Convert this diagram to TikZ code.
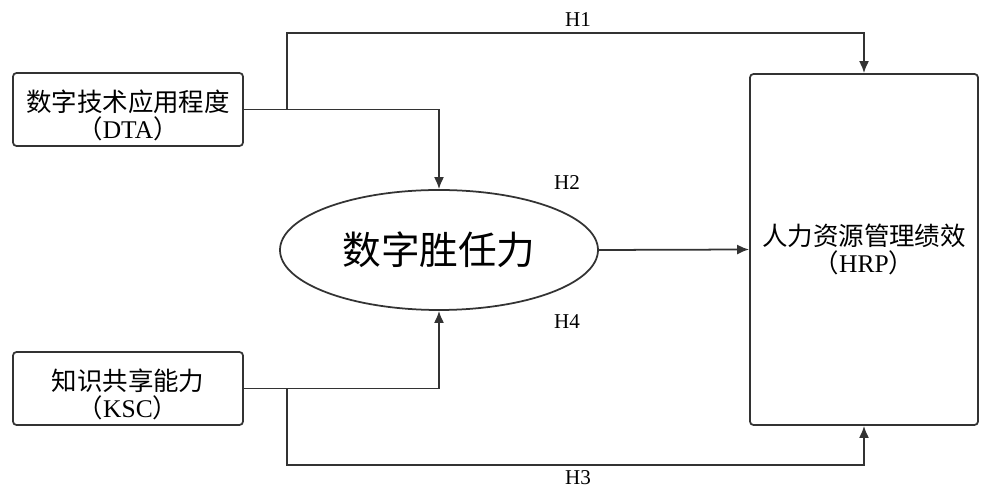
\documentclass[tikz,border=0pt]{standalone}
\usepackage{fontspec}
\setmainfont{Liberation Serif}
\newfontfamily\cjk{Noto Sans CJK SC}
\usetikzlibrary{shapes.geometric,arrows.meta}

\begin{document}
\begin{tikzpicture}[
x=0.2mm, y=-0.2mm,
font=\fontsize{14.5}{15.5}\selectfont,
line/.style={draw=black!80, line width=1pt},
box/.style={line, rounded corners=2pt, align=center, inner sep=0pt},
var/.style={box, minimum width=4.6cm, minimum height=1.46cm, text height=1.2cm},
outcome/.style={box, minimum width=4.56cm, minimum height=7.02cm},
mediator/.style={ellipse, line, minimum width=6.36cm, minimum height=2.4cm,
  inner sep=0pt, font=\cjk\fontsize{22}{26}\selectfont},
arr/.style={line, -{Latex[length=2.4mm,width=2mm]}},
hyp/.style={font=\fontsize{12}{14}\selectfont}
]
\useasboundingbox (0,0) rectangle (984,492);

% Variables
\node[var] (dta) at (128,109.5) {{\cjk 数字技术应用程度}\\{\cjk （}DTA{\cjk ）}};
\node[var] (ksc) at (128,388.5) {{\cjk 知识共享能力}\\{\cjk （}KSC{\cjk ）}};
\node[mediator] (dc) at (439,250) {数字胜任力};
\node[outcome] (hrp) at (864,249.5) {{\cjk 人力资源管理绩效}\\{\cjk （}HRP{\cjk ）}};

% Routing lines
\coordinate (topline) at (0,33);
\coordinate (botline) at (0,465);

% Hypothesis paths
\draw[arr] (dta.east) -- ++(43,0) |- (topline -| hrp.north) -- (hrp.north);
\draw[arr] (dta.east) -| (dc.north);
\draw[arr] (dc.east) -- (hrp.west);
\draw[arr] (ksc.east) -| (dc.south);
\draw[arr] (ksc.east) -- ++(43,0) |- (botline -| hrp.south) -- (hrp.south);

% Labels
\node[hyp] (h1) at (578,20) {H1};
\node[hyp] (h2) at (567,183) {H2};
\node[hyp] (h4) at (567,322) {H4};
\node[hyp] (h3) at (578,478) {H3};

\end{tikzpicture}
\end{document}
